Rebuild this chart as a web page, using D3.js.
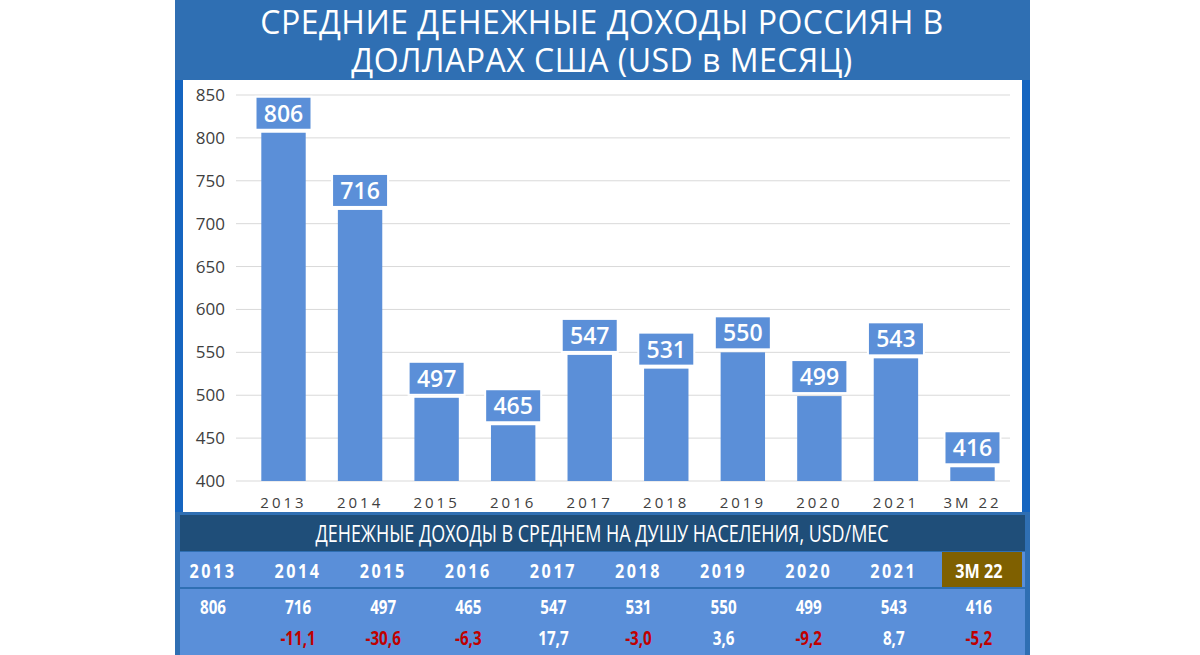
<!DOCTYPE html><html><head><meta charset="utf-8"><script src="https://cdn.jsdelivr.net/npm/d3@7"></script>
<style>body{margin:0;background:#fff}svg{display:block}text{font-family:"Open Sans",sans-serif}</style></head><body>
<svg id="c" width="1200" height="655"></svg>
<script>
const categories=["2013","2014","2015","2016","2017","2018","2019","2020","2021","3М 22"];
const values=[806,716,497,465,547,531,550,499,543,416];
const changes=["","-11,1","-30,6","-6,3","17,7","-3,0","3,6","-9,2","8,7","-5,2"];
const yTicks=[400,450,500,550,600,650,700,750,800,850];
const svg=d3.select("#c");
svg.append("rect").attr("x",175).attr("y",0).attr("width",855).attr("height",655).attr("fill","#2F6FB3");
svg.append("rect").attr("x",183).attr("y",80).attr("width",839).attr("height",432).attr("fill","#fff");
svg.append("rect").attr("x",1022).attr("y",80).attr("width",8).attr("height",432).attr("fill","#1565C0");
svg.append("rect").attr("x",175).attr("y",80).attr("width",8).attr("height",432).attr("fill","#1565C0");
svg.append("text").attr("x",602).attr("y",34).attr("text-anchor","middle").attr("fill","#fff").attr("font-size",32).attr("letter-spacing",0.5).text("СРЕДНИЕ ДЕНЕЖНЫЕ ДОХОДЫ РОССИЯН В");
svg.append("text").attr("x",602).attr("y",72).attr("text-anchor","middle").attr("fill","#fff").attr("font-size",32).attr("letter-spacing",0.5).text("ДОЛЛАРАХ США (USD в МЕСЯЦ)");
const x=d3.scaleBand().domain(categories).range([246,1010]).paddingInner(0.42).paddingOuter(0.2);
const y=d3.scaleLinear().domain([400,850]).range([481,95]);
const g=svg.append("g");
g.selectAll(".gl").data(yTicks).join("line").attr("x1",236).attr("x2",1010).attr("y1",d=>y(d)).attr("y2",d=>y(d)).attr("stroke","#d9d9d9");
g.selectAll(".yt").data(yTicks).join("text").attr("x",225).attr("y",d=>y(d)+6).attr("text-anchor","end").attr("font-size",17).attr("fill","#404040").text(d=>d);
g.selectAll(".bar").data(values).join("rect").attr("x",(d,i)=>x(categories[i])).attr("width",x.bandwidth()).attr("y",d=>y(d)).attr("height",d=>y(400)-y(d)).attr("fill","#5B8FD8");
g.selectAll(".xt").data(categories).join("text").attr("x",d=>x(d)+x.bandwidth()/2).attr("y",508).attr("text-anchor","middle").attr("font-size",15).attr("letter-spacing",3).attr("fill","#404040").text(d=>d);
values.forEach((v,i)=>{const cx=x(categories[i])+x.bandwidth()/2;const yy=y(v);
 g.append("rect").attr("x",cx-28).attr("y",yy-36).attr("width",56).attr("height",33).attr("fill","#5B8FD8").attr("stroke","#fff").attr("stroke-width",2);
 g.append("text").attr("x",cx).attr("y",yy-11).attr("text-anchor","middle").attr("font-size",23).attr("font-weight",600).attr("fill","#fff").text(v);});
// table
svg.append("rect").attr("x",180).attr("y",515).attr("width",845).attr("height",36).attr("fill","#1F4E79");
svg.append("text").attr("x",602).attr("y",542).attr("text-anchor","middle").attr("fill","#fff").attr("font-size",23).attr("transform","translate(602,0) scale(0.78,1) translate(-602,0)").text("ДЕНЕЖНЫЕ ДОХОДЫ В СРЕДНЕМ НА ДУШУ НАСЕЛЕНИЯ, USD/МЕС");
svg.append("rect").attr("x",180).attr("y",552).attr("width",845).attr("height",103).attr("fill","#5A8FD9");
svg.append("line").attr("x1",180).attr("x2",1025).attr("y1",588).attr("y2",588).attr("stroke","#2F6FB3").attr("stroke-width",2);
const colC=i=>213+i*85.1;
svg.append("rect").attr("x",942).attr("y",552).attr("width",80).attr("height",35).attr("fill","#7F6000");
categories.forEach((c,i)=>{
 const cx=colC(i);
 svg.append("text").attr("x",cx).attr("y",578).attr("text-anchor","middle").attr("fill","#fff").attr("font-weight","bold").attr("font-size",19).attr("letter-spacing",i==9?0:3).attr("transform",`translate(${cx},0) scale(0.85,1) translate(${-cx},0)`).text(c);
 svg.append("text").attr("x",cx).attr("y",614).attr("text-anchor","middle").attr("fill","#fff").attr("font-weight","bold").attr("font-size",19).attr("transform",`translate(${cx},0) scale(0.8,1) translate(${-cx},0)`).text(values[i]);
 svg.append("text").attr("x",cx).attr("y",645).attr("text-anchor","middle").attr("fill",changes[i].startsWith("-")?"#C00000":"#fff").attr("font-weight","bold").attr("font-size",19).attr("transform",`translate(${cx},0) scale(0.8,1) translate(${-cx},0)`).text(changes[i]);
});
</script></body></html>
